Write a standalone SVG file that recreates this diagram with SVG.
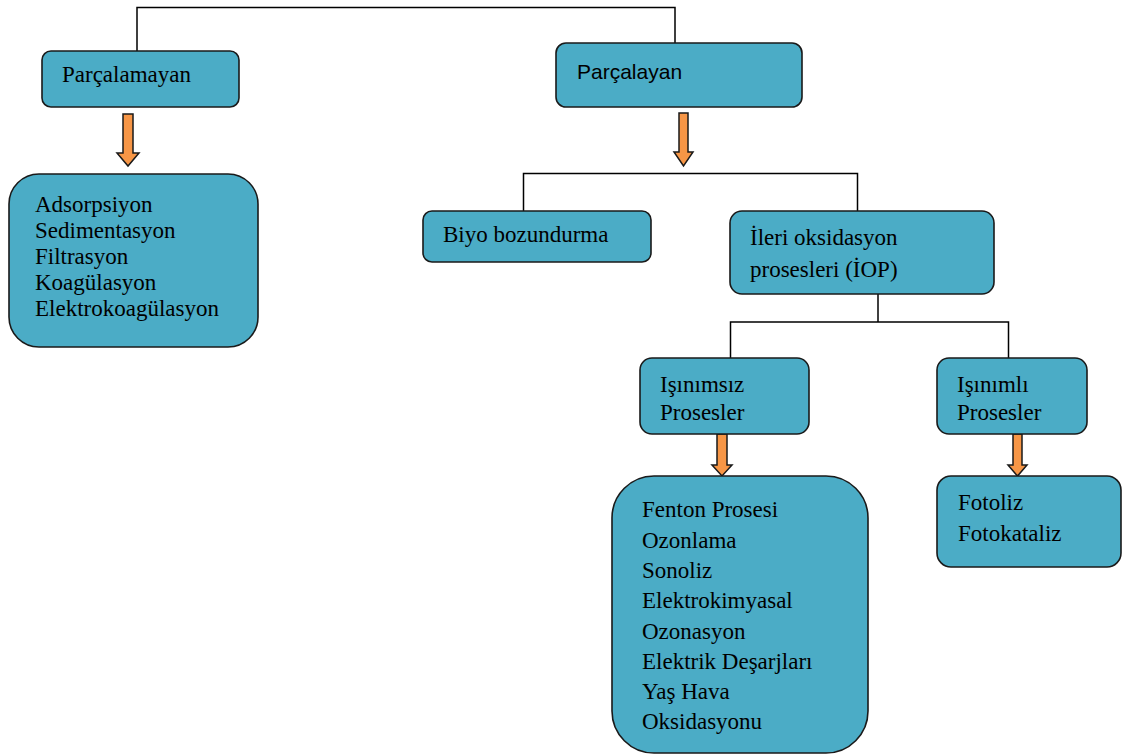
<svg xmlns="http://www.w3.org/2000/svg" width="1123" height="756" viewBox="0 0 1123 756">
<style>
.box{fill:#4BACC6;stroke:#1a1a1a;stroke-width:1.6}
.t{font-family:"Liberation Serif","Times New Roman",serif;font-size:23px;fill:#000}
.s{font-family:"Liberation Sans",Arial,sans-serif;font-size:21px;fill:#000}
.ln{fill:none;stroke:#000;stroke-width:1.5}
.ar{fill:#F79646;stroke:#1a1a1a;stroke-width:1.5;stroke-linejoin:miter}
</style>
<rect width="1123" height="756" fill="#fff"/>
<g id="connectors">
<polyline class="ln" points="137,51 137,7.5 675,7.5 675,43"/>
<polyline class="ln" points="523.5,211 523.5,173.5 857.5,173.5 857.5,211"/>
<polyline class="ln" points="878,294 878,322"/>
<polyline class="ln" points="730.5,358 730.5,322 1008.5,322 1008.5,358"/>
<path class="ar" d="M123,114 H133 V153 H139 L128,166 L117,153 H123 Z"/>
<path class="ar" d="M679,113 H688 V152 H693 L683.5,166 L674,152 H679 Z"/>
<path class="ar" d="M717,434 H727 V465 H732 L722,476 L712,465 H717 Z"/>
<path class="ar" d="M1013,434 H1022 V465 H1027 L1017.5,476 L1008,465 H1013 Z"/>
</g>
<g id="parcalamayan">
<rect class="box" x="42" y="51" width="197" height="56" rx="9"/>
<text class="t" x="62" y="82">Parçalamayan</text>
</g>
<g id="parcalayan">
<rect class="box" x="556" y="43" width="246" height="64" rx="10"/>
<text class="s" x="577" y="79">Parçalayan</text>
</g>
<g id="adsorpsiyon">
<rect class="box" x="9" y="174" width="249" height="173" rx="30"/>
<text class="t" x="35" y="212">Adsorpsiyon</text>
<text class="t" x="35" y="238">Sedimentasyon</text>
<text class="t" x="35" y="264">Filtrasyon</text>
<text class="t" x="35" y="290">Koagülasyon</text>
<text class="t" x="35" y="316">Elektrokoagülasyon</text>
</g>
<g id="biyo">
<rect class="box" x="423" y="211" width="228" height="51" rx="9"/>
<text class="t" x="443" y="242">Biyo bozundurma</text>
</g>
<g id="ileri">
<rect class="box" x="730" y="211" width="264" height="83" rx="12"/>
<text class="t" x="750" y="245">İleri oksidasyon</text>
<text class="t" x="750" y="277">prosesleri (İOP)</text>
</g>
<g id="isinimsiz">
<rect class="box" x="640" y="358" width="169" height="76" rx="12"/>
<text class="t" x="660" y="392">Işınımsız</text>
<text class="t" x="660" y="420">Prosesler</text>
</g>
<g id="isinimli">
<rect class="box" x="937" y="358" width="150" height="76" rx="12"/>
<text class="t" x="957" y="392">Işınımlı</text>
<text class="t" x="957" y="420">Prosesler</text>
</g>
<g id="fenton">
<rect class="box" x="612" y="476" width="256" height="277" rx="42"/>
<text class="t" x="642" y="517">Fenton Prosesi</text>
<text class="t" x="642" y="548">Ozonlama</text>
<text class="t" x="642" y="578">Sonoliz</text>
<text class="t" x="642" y="608">Elektrokimyasal</text>
<text class="t" x="642" y="639">Ozonasyon</text>
<text class="t" x="642" y="669">Elektrik Deşarjları</text>
<text class="t" x="642" y="699">Yaş Hava</text>
<text class="t" x="642" y="729">Oksidasyonu</text>
</g>
<g id="fotoliz">
<rect class="box" x="937" y="476" width="184" height="91" rx="14"/>
<text class="t" x="958" y="510">Fotoliz</text>
<text class="t" x="958" y="541">Fotokataliz</text>
</g>
</svg>
